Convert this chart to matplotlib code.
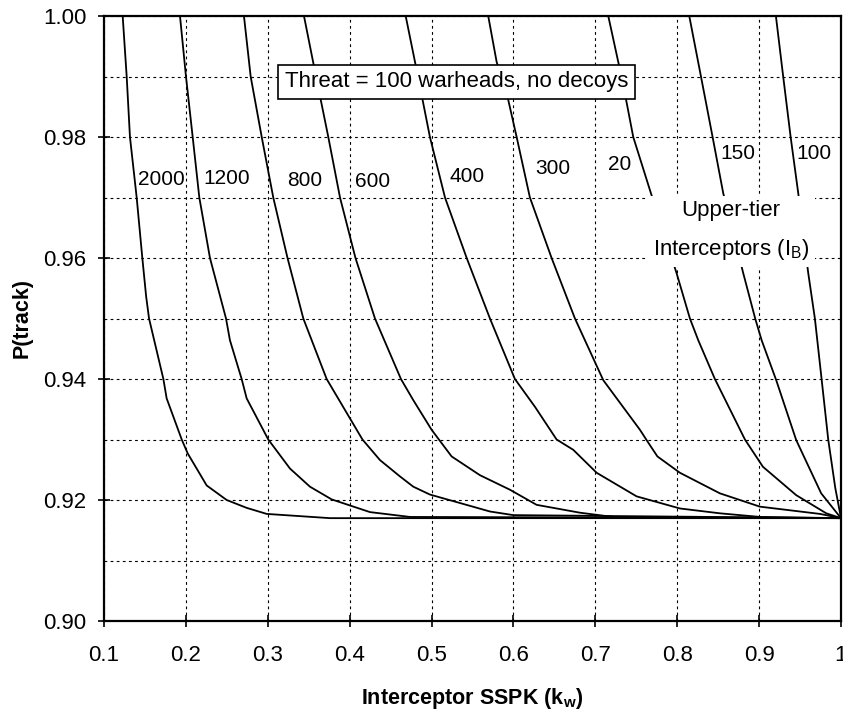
import matplotlib
matplotlib.use('Agg')
import matplotlib.pyplot as plt
import matplotlib.ticker as ticker

plt.rcParams['font.family'] = ['Liberation Sans', 'DejaVu Sans']
plt.rcParams['mathtext.fontset'] = 'custom'
plt.rcParams['mathtext.rm'] = 'Liberation Sans'
plt.rcParams['mathtext.bf'] = 'Liberation Sans:bold'

# curves: interceptor SSPK (kw) vs P(track), one per upper-tier inventory
kw_2000 = [0.1228, 0.1277, 0.1317, 0.1399, 0.1468, 0.1515, 0.155, 0.1725, 0.1765, 0.1949,
           0.2022, 0.2254, 0.2498, 0.2742, 0.2987, 0.376, 1.0]
pt_2000 = [1.000, 0.990, 0.980, 0.970, 0.960, 0.9536, 0.950, 0.940, 0.9368, 0.930,
           0.9277, 0.9224, 0.9200, 0.9187, 0.9177, 0.9170, 0.9170]

kw_1200 = [0.1928, 0.2001, 0.2083, 0.2164, 0.2294, 0.249, 0.2538, 0.2681, 0.2742, 0.3006,
           0.3271, 0.3515, 0.378, 0.4248, 0.4736, 1.0]
pt_1200 = [1.000, 0.990, 0.980, 0.970, 0.960, 0.950, 0.9464, 0.940, 0.9368, 0.930,
           0.9252, 0.9222, 0.9201, 0.9180, 0.9172, 0.9170]

kw_800 = [0.2709, 0.2791, 0.2926, 0.3067, 0.3241, 0.3434, 0.3719, 0.4156, 0.437, 0.4614,
          0.4777, 0.498, 0.5347, 0.5713, 0.5998, 1.0]
pt_800 = [1.000, 0.990, 0.980, 0.970, 0.960, 0.950, 0.940, 0.930, 0.9266, 0.9239,
          0.9222, 0.9209, 0.9195, 0.9181, 0.9175, 0.9170]

kw_600 = [0.3442, 0.3589, 0.3739, 0.3882, 0.4071, 0.4309, 0.4626, 0.4777, 0.5001, 0.5245,
          0.5591, 0.5957, 0.6283, 0.6812, 0.7219, 1.0]
pt_600 = [1.000, 0.990, 0.980, 0.970, 0.960, 0.950, 0.940, 0.9365, 0.9316, 0.9272,
          0.9241, 0.9217, 0.9192, 0.9179, 0.9172, 0.9170]

kw_400 = [0.4684, 0.4834, 0.498, 0.5164, 0.5429, 0.5713, 0.6018, 0.6263, 0.6527, 0.673,
          0.7016, 0.7504, 0.8033, 0.8521, 0.901, 1.0]
pt_400 = [1.000, 0.990, 0.980, 0.970, 0.960, 0.950, 0.940, 0.9354, 0.930, 0.9283,
          0.9245, 0.9206, 0.9186, 0.9178, 0.9172, 0.9170]

kw_300 = [0.5692, 0.5795, 0.5937, 0.6039, 0.6201, 0.6466, 0.6751, 0.7097, 0.7545, 0.7626,
          0.7758, 0.8033, 0.8521, 0.901, 0.9743, 1.0]
pt_300 = [1.000, 0.9924, 0.9861, 0.980, 0.970, 0.960, 0.950, 0.9398, 0.9316, 0.9299,
          0.9272, 0.9245, 0.9211, 0.9189, 0.9177, 0.9170]

kw_200 = [0.7158, 0.728, 0.7321, 0.7463, 0.7679, 0.7992, 0.8155, 0.8257, 0.846, 0.8827,
          0.9046, 0.9453, 0.982, 1.0]
pt_200 = [1.000, 0.9924, 0.990, 0.980, 0.9707, 0.9575, 0.950, 0.9464, 0.940, 0.930,
          0.9255, 0.9208, 0.9178, 0.9170]

kw_150 = [0.8147, 0.829, 0.8432, 0.8562, 0.8806, 0.8952, 0.9031, 0.9209, 0.9453, 0.9758, 1.0]
pt_150 = [1.000, 0.990, 0.980, 0.9707, 0.9575, 0.950, 0.9464, 0.9398, 0.9299, 0.9211, 0.9170]

kw_100 = [0.9205, 0.9294, 0.9385, 0.9478, 0.96, 0.9681, 0.9763, 0.9844, 0.993, 1.0]
pt_100 = [1.000, 0.990, 0.980, 0.9707, 0.9575, 0.950, 0.940, 0.930, 0.922, 0.9170]

curve_labels = ['2000', '1200', '800', '600', '400', '300', '20', '150', '100']
x_ticks = [0.1, 0.2, 0.3, 0.4, 0.5, 0.6, 0.7, 0.8, 0.9, 1.0]
x_ticklabels = ['0.1', '0.2', '0.3', '0.4', '0.5', '0.6', '0.7', '0.8', '0.9', '1']

# where the curve numbers sit (label positions, not data)
label_x = [0.1705, 0.2498, 0.3448, 0.4278, 0.5429, 0.6476, 0.730, 0.8745, 0.9669]
label_y = [0.9721, 0.9722, 0.9719, 0.9717, 0.9726, 0.9739, 0.9745, 0.9763, 0.9763]

curves = [(kw_2000, pt_2000), (kw_1200, pt_1200), (kw_800, pt_800), (kw_600, pt_600),
          (kw_400, pt_400), (kw_300, pt_300), (kw_200, pt_200), (kw_150, pt_150),
          (kw_100, pt_100)]

fig = plt.figure(figsize=(8.43, 7.15), dpi=100)
ax = fig.add_axes([104/843, 1-621/715, 737/843, 605/715])

for kw, pt in curves:
    ax.plot(kw, pt, color='black', lw=1.3, zorder=3)

for txt, lx, ly in zip(curve_labels, label_x, label_y):
    ax.text(lx, ly, txt, ha='center', va='baseline', fontsize=15, zorder=4)

ax.text(0.5302, 0.9882, 'Threat = 100 warheads, no decoys', ha='center', va='baseline',
        fontsize=16, zorder=6,
        bbox=dict(boxstyle='square,pad=0.3', fc='white', ec='black', lw=1.2))
ax.text(0.8656, 0.9645, 'Upper-tier\nInterceptors (I$_\\mathrm{B}$)', ha='center', va='center',
        multialignment='center', fontsize=16, linespacing=1.9, zorder=6,
        bbox=dict(boxstyle='square,pad=0.25', fc='white', ec='none'))

ax.set_xlim(0.1, 1.0)
ax.set_ylim(0.90, 1.00)
ax.xaxis.set_major_locator(ticker.FixedLocator(x_ticks))
ax.xaxis.set_major_formatter(ticker.FixedFormatter(x_ticklabels))
ax.yaxis.set_major_locator(ticker.MultipleLocator(0.02))
ax.yaxis.set_minor_locator(ticker.MultipleLocator(0.01))
ax.yaxis.set_major_formatter(ticker.FormatStrFormatter('%.2f'))

ax.tick_params(which='major', direction='inout', length=9, width=1.2, labelsize=16)
ax.tick_params(axis='x', which='major', pad=13)
ax.tick_params(axis='y', which='major', pad=8)
ax.tick_params(which='minor', length=0)
ax.grid(which='both', color='black', linestyle=(0, (2.5, 3)), linewidth=0.8)
ax.set_axisbelow(True)
for sp in ax.spines.values():
    sp.set_linewidth(1.6)

ax.set_xlabel('Interceptor SSPK (k$_\\mathbf{w}$)', fontsize=15.5, fontweight='bold', labelpad=14)
ax.set_ylabel('P(track)', fontsize=15.5, fontweight='bold', labelpad=8)

plt.savefig('out.png', dpi=100)
